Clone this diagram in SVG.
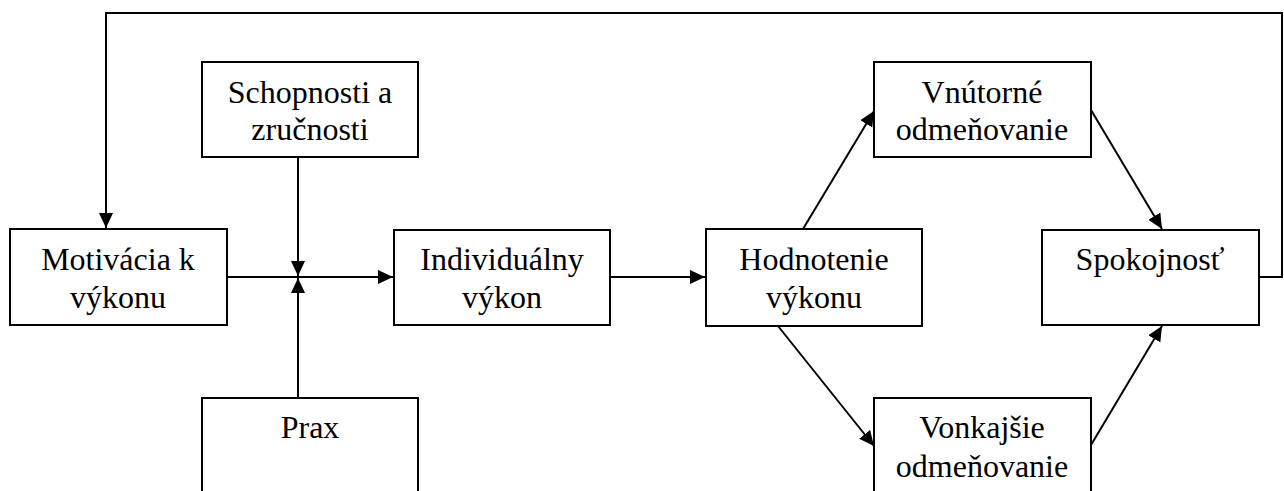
<svg xmlns="http://www.w3.org/2000/svg" width="1284" height="491" viewBox="0 0 1284 491">
<style>
.box{fill:#fff;stroke:#000;stroke-width:2}
.lbl{font-family:"Liberation Serif","Times New Roman",serif;font-size:32px;fill:#000;text-anchor:middle}
.edge{fill:none;stroke:#000;stroke-width:2}
</style>
<defs>
<marker id="arr" markerUnits="userSpaceOnUse" markerWidth="16" markerHeight="16" viewBox="0 0 16 16" refX="15" refY="8" orient="auto">
<path d="M0,1 L15,8 L0,15 Z" fill="#000"/>
</marker>
</defs>
<rect width="1284" height="491" fill="#fff"/>
<g id="connectors">
<path class="edge" d="M1259,277 H1282 V13 H106 V228" marker-end="url(#arr)"/>
<path class="edge" d="M298,157 V276" marker-end="url(#arr)"/>
<path class="edge" d="M298,398 V278" marker-end="url(#arr)"/>
<path class="edge" d="M227,277 H393" marker-end="url(#arr)"/>
<path class="edge" d="M610,277 H705" marker-end="url(#arr)"/>
<path class="edge" d="M803,229 L874,111" marker-end="url(#arr)"/>
<path class="edge" d="M778,326 L874,446" marker-end="url(#arr)"/>
<path class="edge" d="M1091,110 L1162,229" marker-end="url(#arr)"/>
<path class="edge" d="M1091,445 L1162,326" marker-end="url(#arr)"/>
</g>
<g id="motivacia">
<rect class="box" x="10" y="229" width="217" height="96"/>
<text class="lbl" x="118" y="270">Motivácia k</text>
<text class="lbl" x="118" y="308">výkonu</text>
</g>
<g id="schopnosti">
<rect class="box" x="202" y="62" width="216" height="95"/>
<text class="lbl" x="310" y="103">Schopnosti a</text>
<text class="lbl" x="310" y="140">zručnosti</text>
</g>
<g id="prax">
<rect class="box" x="202" y="398" width="216" height="110"/>
<text class="lbl" x="310" y="438">Prax</text>
</g>
<g id="individualny">
<rect class="box" x="394" y="230" width="216" height="95"/>
<text class="lbl" x="502" y="270">Individuálny</text>
<text class="lbl" x="502" y="308">výkon</text>
</g>
<g id="hodnotenie">
<rect class="box" x="706" y="229" width="216" height="97"/>
<text class="lbl" x="814" y="270">Hodnotenie</text>
<text class="lbl" x="814" y="308">výkonu</text>
</g>
<g id="vnutorne">
<rect class="box" x="874" y="62" width="217" height="95"/>
<text class="lbl" x="982" y="103">Vnútorné</text>
<text class="lbl" x="982" y="140">odmeňovanie</text>
</g>
<g id="vonkajsie">
<rect class="box" x="874" y="398" width="217" height="110"/>
<text class="lbl" x="982" y="438">Vonkajšie</text>
<text class="lbl" x="982" y="477">odmeňovanie</text>
</g>
<g id="spokojnost">
<rect class="box" x="1042" y="230" width="217" height="95"/>
<text class="lbl" x="1150" y="270">Spokojnosť</text>
</g>
</svg>
